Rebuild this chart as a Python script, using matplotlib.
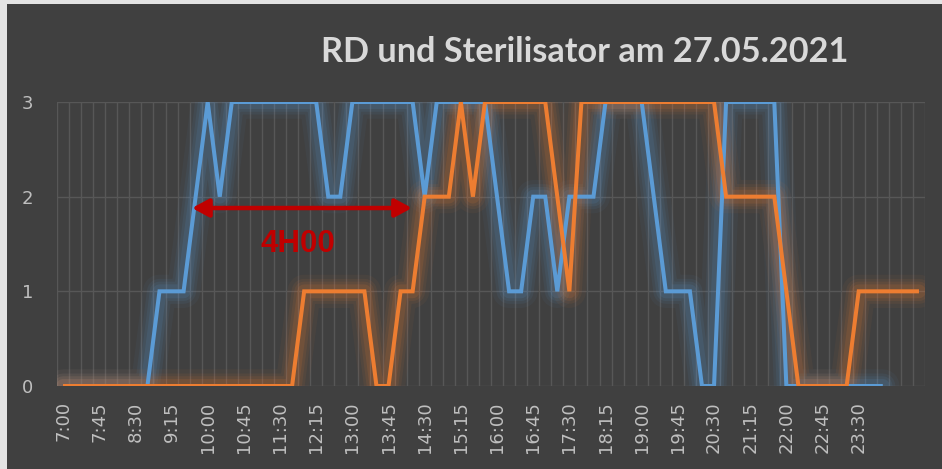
import numpy as np
import matplotlib
matplotlib.use("Agg")
import matplotlib.pyplot as plt
from matplotlib.patches import Rectangle

# ---------------- data ----------------
title = "RD und Sterilisator am 27.05.2021"

tick_labels = ["7:00", "7:45", "8:30", "9:15", "10:00", "10:45", "11:30", "12:15",
               "13:00", "13:45", "14:30", "15:15", "16:00", "16:45", "17:30", "18:15",
               "19:00", "19:45", "20:30", "21:15", "22:00", "22:45", "23:30"]

# 15-minute slots from 7:00 (one value per slot)
rd_values = [0, 0, 0, 0, 0, 0, 0, 0, 1, 1,
             1, 2, 3, 2, 3, 3, 3, 3, 3, 3,
             3, 3, 2, 2, 3, 3, 3, 3, 3, 3,
             2, 3, 3, 3, 3, 3, 2, 1, 1, 2,
             2, 1, 2, 2, 2, 3, 3, 3, 3, 2,
             1, 1, 1, 0, 0, 3, 3, 3, 3, 3,
             0, 0, 0, 0, 0, 0, 0, 0, 0]

steri_values = [0, 0, 0, 0, 0, 0, 0, 0, 0, 0,
                0, 0, 0, 0, 0, 0, 0, 0, 0, 0,
                1, 1, 1, 1, 1, 1, 0, 0, 1, 1,
                2, 2, 2, 3, 2, 3, 3, 3, 3, 3,
                3, 2, 1, 3, 3, 3, 3, 3, 3, 3,
                3, 3, 3, 3, 3, 2, 2, 2, 2, 2,
                1, 0, 0, 0, 0, 0, 1, 1, 1, 1,
                1, 1]

arrow_label = "4H00"

# ---------------- style ----------------
BG = "#404040"
BLUE = "#5B9BD5"
ORANGE = "#ED7D31"
GRID = "#575757"
TXT = "#BFBFBF"
RED = "#C00000"

W, H = 942, 469
fig = plt.figure(figsize=(W / 100, H / 100), dpi=100)
fig.patch.set_facecolor("#E4E4E4")
fig.add_artist(Rectangle((7 / W, 0), (W - 7) / W, (H - 4) / H,
                         transform=fig.transFigure, facecolor=BG,
                         edgecolor="none", zorder=0))

ax = fig.add_axes([57 / W, 83 / H, 868 / W, 284 / H])
ax.set_facecolor(BG)

n_slots = len(steri_values)
ax.set_xlim(-0.5, n_slots - 0.5)
ax.set_ylim(0, 3)

# gridlines
ax.set_xticks(np.arange(-0.5, n_slots, 1), minor=True)
ax.grid(which="minor", axis="x", color=GRID, lw=1.0)
ax.set_yticks([0, 1, 2, 3])
ax.grid(which="major", axis="y", color=GRID, lw=1.0)
ax.set_axisbelow(True)

for s in ax.spines.values():
    s.set_visible(False)


def glow_line(y, color):
    x = np.arange(len(y))
    for lw, a in zip([24, 18, 14, 10], [0.05, 0.07, 0.09, 0.12]):
        ax.plot(x, y, color=color, lw=lw, alpha=a, solid_joinstyle="round",
                solid_capstyle="round", zorder=2)
    ax.plot(x, y, color=color, lw=2.9, solid_joinstyle="miter",
            solid_capstyle="butt", zorder=3)


glow_line(rd_values, BLUE)
glow_line(steri_values, ORANGE)

ax.set_xticks(np.arange(0, len(tick_labels) * 3, 3))
ax.set_xticklabels(tick_labels, rotation=90, fontsize=13, color=TXT)
ax.tick_params(axis="x", which="both", length=0, pad=11)
ax.tick_params(axis="y", length=0, pad=17, labelsize=13, labelcolor=TXT)

# title
fig.text(585 / W, 1 - 62.5 / H, title, ha="center", va="baseline",
         fontsize=24.7, fontweight="bold", color="#D9D9D9", family="Lato")

# red double arrow with label
ax.annotate("", xy=(10.7, 1.88), xytext=(28.94, 1.88),
            arrowprops=dict(arrowstyle="<|-|>,head_length=0.5,head_width=0.27",
                            color=RED, lw=3.2, mutation_scale=20,
                            shrinkA=0, shrinkB=0), zorder=5)
ax.text(19.5, 1.415, arrow_label, color=RED, fontsize=22.5, fontweight="bold",
        family="Liberation Sans", ha="center", va="baseline", zorder=5)

fig.savefig("out.png", dpi=100, facecolor=fig.get_facecolor())
